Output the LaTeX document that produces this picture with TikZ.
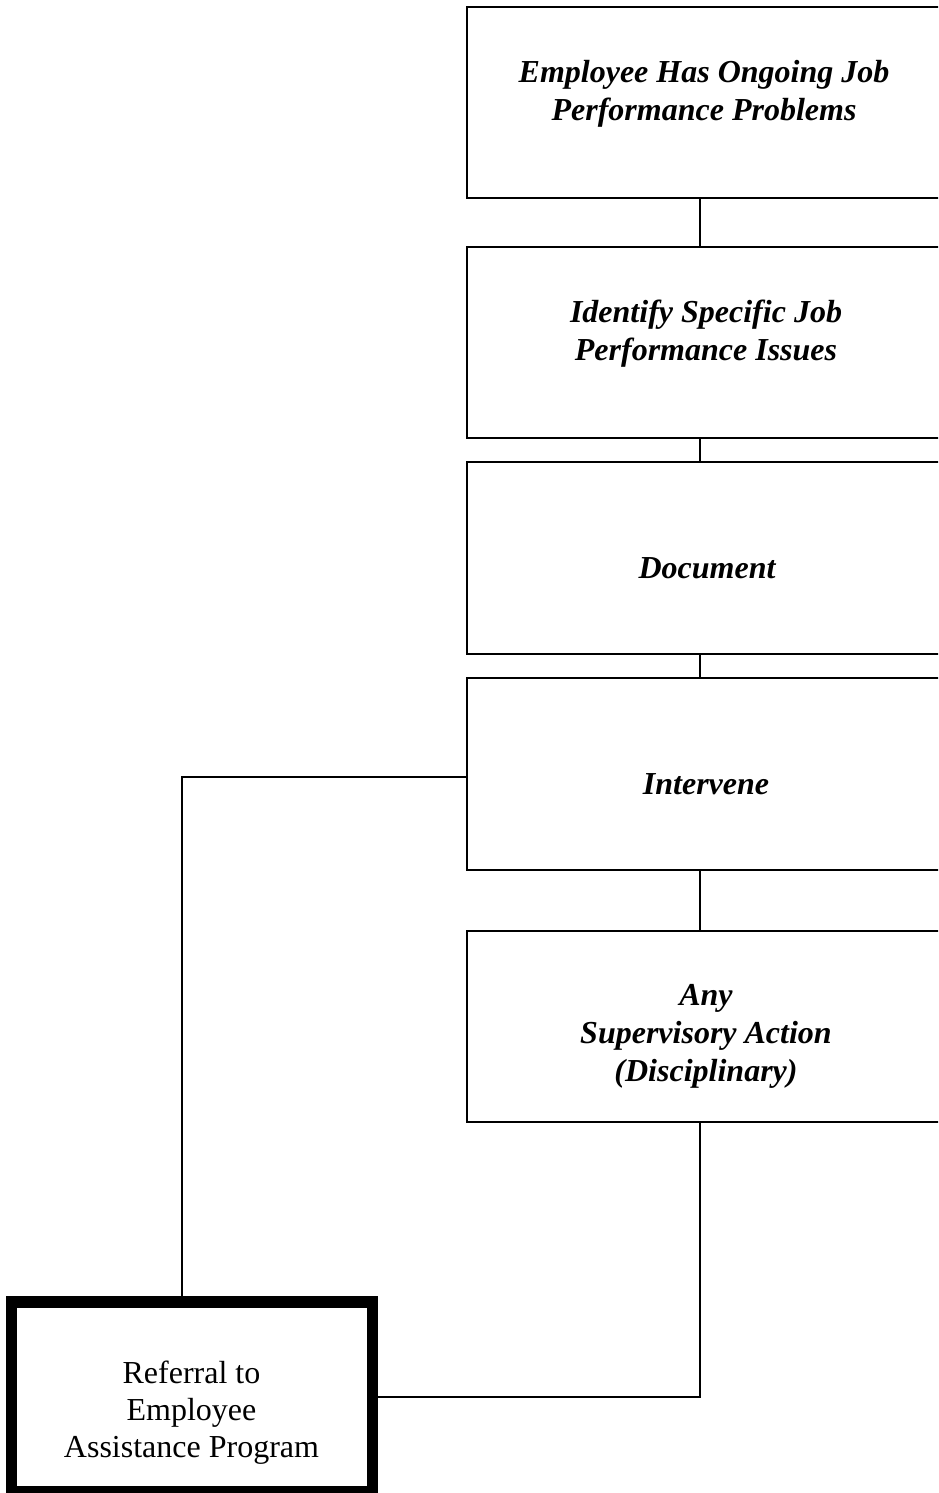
\documentclass[tikz,border=0pt]{standalone}
\usepackage{fontspec}
\setmainfont{Liberation Serif}
\begin{document}
\begin{tikzpicture}[x=1pt,y=-1pt,
  box/.style={draw,line width=1.6pt,rectangle,minimum width=600pt,anchor=north west,inner sep=0pt,outer sep=0pt},
  lbl/.style={font=\fontsize{32}{38}\selectfont\bfseries\itshape,align=center,inner sep=0pt},
  conn/.style={line width=1.6pt},
  refbox/.style={draw,line width=11.5pt,rectangle,minimum width=361pt,minimum height=190pt,anchor=north west,inner sep=0pt,outer sep=0pt},
  reflbl/.style={font=\fontsize{32}{37}\selectfont,align=center,inner sep=0pt}]
\useasboundingbox (0,0) rectangle (938,1493);
\clip (0,0) rectangle (938,1493);
\fill[white] (0,0) rectangle (938,1493);
\coordinate (c) at (700,0);
\coordinate (l) at (182,0);
\node[box,minimum height=191pt] (b1) at (467,7) {};
\node[box,minimum height=191pt] (b2) at (467,247) {};
\node[box,minimum height=192pt] (b3) at (467,462) {};
\node[box,minimum height=192pt] (b4) at (467,678) {};
\node[box,minimum height=191pt] (b5) at (467,931) {};
\node[refbox] (ref) at (11.5,1302) {};
\node[lbl] (t1) at (704,94) {Employee Has Ongoing Job\\Performance Problems};
\node[lbl] (t2) at (706,334) {Identify Specific Job\\Performance Issues};
\node[lbl] (t3) at (707,568) {Document};
\node[lbl] (t4) at (706,784) {Intervene};
\node[lbl] (t5) at (706,1036) {Any\\Supervisory Action\\(Disciplinary)};
\node[reflbl] (t6) at (191.5,1413) {Referral to\\Employee\\Assistance Program};
\draw[conn] (b1.south -| c) -- (b2.north -| c);
\draw[conn] (b2.south -| c) -- (b3.north -| c);
\draw[conn] (b3.south -| c) -- (b4.north -| c);
\draw[conn] (b4.south -| c) -- (b5.north -| c);
\draw[conn] ([yshift=-3pt]b4.west) -| (ref.north -| l);
\draw[conn] (b5.south -| c) |- (ref.east);
\end{tikzpicture}
\end{document}
